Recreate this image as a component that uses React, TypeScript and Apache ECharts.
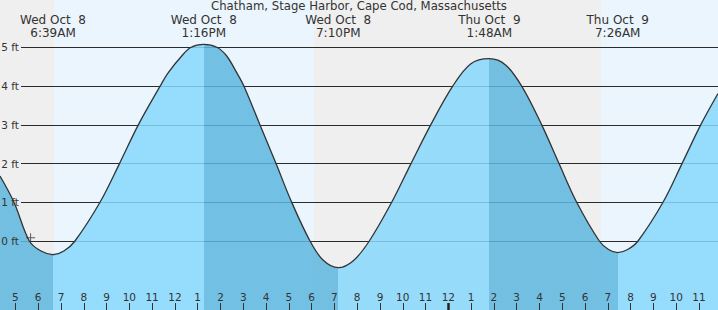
import { useEffect, useRef } from "react";
import * as echarts from "echarts";

const TITLE = "Chatham, Stage Harbor, Cape Cod, Massachusetts";

// hours counted from Wed Oct 8, 00:00
const tideTimes = [
  4.324, 4.938, 5.61, 6.123, 6.65, 7.128, 7.615, 8.713, 9.568, 10.394, 11.35,
  11.71, 12.298, 12.693, 13.267, 13.861, 14.273, 14.712, 15.03, 15.735, 16.437,
  17.126, 17.929, 18.51, 19.167, 19.83, 20.531, 21.514, 22.361, 23.226, 24.191,
  24.99, 25.8, 26.51, 27.22, 28.097, 28.857, 29.633, 30.625, 31.03, 31.433,
  31.87, 32.324, 33.421, 34.255, 35.075, 35.834,
];
const tideHeights = [
  1.68, 1, 0, -0.26, -0.35, -0.26, 0, 1, 2, 3, 4,
  4.35, 4.78, 5.0, 5.08, 5.0, 4.78, 4.35, 4, 3, 2,
  1, 0, -0.5, -0.69, -0.51, 0, 1, 2, 3, 4,
  4.58, 4.71, 4.55, 4, 3, 2, 1, 0, -0.22, -0.3,
  -0.22, 0, 1, 2, 3, 3.81,
];

const eventTimes = [6.65, 13.267, 19.167, 25.8, 31.433];
const eventDays = ["Wed Oct  8", "Wed Oct  8", "Wed Oct  8", "Thu Oct  9", "Thu Oct  9"];
const eventClock = ["6:39AM", "1:16PM", "7:10PM", "1:48AM", "7:26AM"];
const eventKinds = ["low", "high", "low", "high", "low"];

const daylight = [
  [6.69, 18.105],
  [30.7, 35.834],
];

const hourTicks = [
  5, 6, 7, 8, 9, 10, 11, 12, 13, 14, 15, 16, 17, 18, 19, 20, 21, 22, 23, 24,
  25, 26, 27, 28, 29, 30, 31, 32, 33, 34, 35,
];
const midnightTick = [24];
const ftLevels = [0, 1, 2, 3, 4, 5];
const nowMark = [5.667, 0.085];

const Y_MIN = -1.783;
const Y_MAX = 6.227;

const FONT = "DejaVu Sans";
const TEXT = "#333";
const NIGHT = "#EFEFEF";
const DAY = "#EBF5FE";
const RISING = "#87D8FC";
const FALLING = "#5DB7DF";

export default function App() {
  const ref = useRef<HTMLDivElement>(null);

  useEffect(() => {
    if (!ref.current) return;
    const chart = echarts.init(ref.current, null, { renderer: "svg" });
    const tMin = tideTimes[0];
    const tMax = tideTimes[tideTimes.length - 1];

    const pieces: any[] = [];
    for (let i = 0; i <= eventTimes.length; i++) {
      const lo = i === 0 ? undefined : eventTimes[i - 1];
      const hi = i === eventTimes.length ? undefined : eventTimes[i];
      const falling = i < eventTimes.length ? eventKinds[i] === "low" : eventKinds[i - 1] === "high";
      const p: any = { color: falling ? FALLING : RISING };
      if (lo !== undefined) p.gte = lo;
      if (hi !== undefined) p.lt = hi;
      pieces.push(p);
    }

    const nearestEvent = (v: number) => {
      let best = 0;
      for (let i = 1; i < eventTimes.length; i++) {
        if (Math.abs(eventTimes[i] - v) < Math.abs(eventTimes[best] - v)) best = i;
      }
      return best;
    };

    const hiddenX = {
      type: "value",
      min: tMin,
      max: tMax,
      z: 5,
      axisLine: { show: false, onZero: false },
      splitLine: { show: false },
    };

    const option: any = {
      animation: false,
      backgroundColor: NIGHT,
      textStyle: { fontFamily: FONT },
      title: {
        text: TITLE,
        left: "center",
        top: 0,
        padding: 0,
        textStyle: { fontSize: 11.7, fontWeight: "normal", color: TEXT, fontFamily: FONT },
      },
      grid: [
        { left: 0, right: 0, top: 0, bottom: 0, outerBoundsMode: "none" },
        { left: 21, right: 0, top: 0, bottom: 0, outerBoundsMode: "none" },
      ],
      visualMap: {
        type: "piecewise",
        show: false,
        dimension: 0,
        seriesIndex: 0,
        pieces,
      },
      xAxis: [
        {
          ...hiddenX,
          gridIndex: 0,
          position: "bottom",
          axisTick: {
            inside: true,
            length: 7,
            customValues: hourTicks,
            lineStyle: { color: TEXT, width: 1 },
          },
          axisLabel: {
            inside: true,
            margin: 8,
            customValues: hourTicks,
            formatter: (v: number) => String(Math.round(v) % 12 || 12),
            fontSize: 10.5,
            color: TEXT,
            fontFamily: FONT,
          },
        },
        {
          ...hiddenX,
          gridIndex: 0,
          position: "bottom",
          axisTick: {
            inside: true,
            length: 7,
            customValues: midnightTick,
            lineStyle: { color: "#222", width: 2.5 },
          },
          axisLabel: { show: false },
        },
        {
          ...hiddenX,
          gridIndex: 0,
          position: "top",
          axisTick: { show: false },
          axisLabel: {
            inside: true,
            margin: 13,
            customValues: eventTimes,
            formatter: (v: number) => {
              const i = nearestEvent(v);
              return eventDays[i] + "\n" + eventClock[i];
            },
            fontSize: 12,
            lineHeight: 13,
            color: TEXT,
            fontFamily: FONT,
          },
        },
        { type: "value", gridIndex: 1, show: false, min: 0, max: 1, axisLine: { onZero: false } },
      ],
      yAxis: [
        { type: "value", gridIndex: 0, min: Y_MIN, max: Y_MAX, show: false },
        {
          type: "value",
          gridIndex: 1,
          min: Y_MIN,
          max: Y_MAX,
          z: 1.5,
          axisLine: { show: false },
          axisTick: { show: false, customValues: ftLevels },
          splitLine: { show: true, lineStyle: { color: "#2b2b2b", width: 1 } },
          axisLabel: { show: false, customValues: ftLevels },
        },
        {
          type: "value",
          gridIndex: 1,
          min: Y_MIN,
          max: Y_MAX,
          position: "left",
          z: 5,
          axisLine: { show: false },
          axisTick: { show: false, customValues: ftLevels },
          splitLine: { show: false },
          axisLabel: {
            customValues: ftLevels,
            formatter: "{value} ft",
            margin: 2,
            fontSize: 10.5,
            color: TEXT,
            fontFamily: FONT,
          },
        },
      ],
      series: [
        {
          type: "line",
          xAxisIndex: 0,
          yAxisIndex: 0,
          data: tideTimes.map((t, i) => [t, tideHeights[i]]),
          smooth: 0.35,
          symbol: "none",
          lineStyle: { color: "#333", width: 1.3 },
          areaStyle: { origin: "start", opacity: 0.85 },
          markArea: {
            silent: true,
            z: 1,
            itemStyle: { color: DAY },
            data: daylight.map((b) => [{ xAxis: b[0] }, { xAxis: b[1] }]),
          },
          z: 2,
        },
        {
          type: "scatter",
          xAxisIndex: 0,
          yAxisIndex: 0,
          data: [nowMark],
          symbol: "path://M4,0H5V9H4ZM0,4H9V5H0Z",
          symbolSize: 9,
          itemStyle: { color: "#333" },
          z: 3,
        },
      ],
    };

    chart.setOption(option);
    return () => chart.dispose();
  }, []);

  return (
    <div
      ref={ref}
      style={{ position: "fixed", left: 0, top: 0, width: 718, height: 310 }}
    />
  );
}
